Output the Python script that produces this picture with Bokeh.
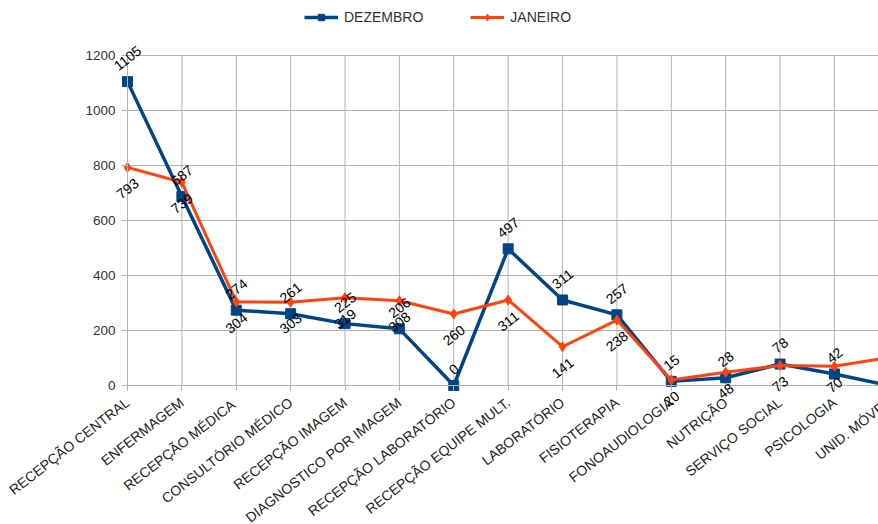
from math import sin, cos, radians
from bokeh.plotting import figure
from bokeh.models import (Range1d, FixedTicker, ColumnDataSource, Label,
                          Legend, LegendItem)
from bokeh.embed import file_html
from bokeh.resources import INLINE

categories = ["RECEPÇÃO CENTRAL", "ENFERMAGEM", "RECEPÇÃO  MÉDICA",
              "CONSULTÓRIO MÉDICO", "RECEPÇÃO IMAGEM", "DIAGNOSTICO POR IMAGEM",
              "RECEPÇÃO LABORATÓRIO", "RECEPÇÃO EQUIPE MULT.", "LABORATÓRIO",
              "FISIOTERAPIA", "FONOAUDIOLOGIA", "NUTRIÇÃO", "SERVIÇO SOCIAL",
              "PSICOLOGIA", "UNID. MÓVEL"]
dezembro = [1105, 687, 274, 261, 225, 206, 0, 497, 311, 257, 15, 28, 78, 42, 0]
janeiro = [793, 739, 304, 303, 319, 308, 260, 311, 141, 238, 20, 48, 73, 70, 102]
y_ticks = [0, 200, 400, 600, 800, 1000, 1200]

BLUE = "#004586"
ORANGE = "#ff420e"
GRID = "#b3b3b3"
FONT = "Liberation Sans"
ANG = radians(38)

W, H = 878, 524
LEFT, BOTTOM0, TOP1200 = 127, 385, 55      # page pixels of the plot area
STEP = 54.38                               # pixels per category
PPU = (BOTTOM0 - TOP1200) / (y_ticks[-1] - y_ticks[0])
X_END = (W - LEFT) / STEP

xs = list(range(len(categories)))

p = figure(width=W, height=H, output_backend="svg", toolbar_location=None,
           title=None,
           x_range=Range1d(-LEFT / STEP, X_END),
           y_range=Range1d(-(H - BOTTOM0) / PPU, y_ticks[-1] + TOP1200 / PPU),
           min_border_left=0, min_border_right=0, min_border_top=0,
           min_border_bottom=0)
p.outline_line_color = None
p.background_fill_color = "white"
p.xgrid.visible = False
p.ygrid.visible = False

# axes (drawn at the data origin)
p.xaxis.fixed_location = 0
p.xaxis.bounds = (xs[0], xs[-1])
p.xaxis.ticker = FixedTicker(ticks=xs)
p.xaxis.major_label_overrides = {i: c for i, c in zip(xs, categories)}
p.xaxis.major_label_orientation = ANG
p.xaxis.major_label_standoff = 10
p.xaxis.major_label_text_font = FONT
p.xaxis.major_label_text_font_size = "14px"
p.xaxis.major_label_text_color = "#222222"
p.xaxis.axis_line_color = GRID
p.xaxis.major_tick_line_color = GRID
p.xaxis.major_tick_out = 5
p.xaxis.major_tick_in = 0
p.xaxis.minor_tick_line_color = None

p.yaxis.fixed_location = 0
p.yaxis.bounds = (y_ticks[0], y_ticks[-1])
p.yaxis.ticker = FixedTicker(ticks=y_ticks)
p.yaxis.axis_line_color = GRID
p.yaxis.major_tick_line_color = GRID
p.yaxis.major_tick_out = 6
p.yaxis.major_tick_in = 0
p.yaxis.minor_tick_line_color = None
p.yaxis.major_label_text_font = FONT
p.yaxis.major_label_text_font_size = "13.5px"
p.yaxis.major_label_text_color = "#333333"
p.yaxis.major_label_standoff = 6

# grid lines
p.segment(x0=xs, x1=xs, y0=[y_ticks[0]] * len(xs), y1=[y_ticks[-1]] * len(xs),
          line_color=GRID, line_width=1)
p.segment(x0=[xs[0]] * len(y_ticks), x1=[xs[-1]] * len(y_ticks),
          y0=y_ticks, y1=y_ticks, line_color=GRID, line_width=1)

# last category label (its tick lies beyond the visible area)
p.add_layout(Label(x=xs[-1], y=0, text=categories[-1], y_offset=-15,
                   angle=ANG, text_align="right", text_baseline="middle",
                   text_font=FONT, text_font_size="14px", text_color="#222222"))

# series
src = ColumnDataSource(dict(x=xs, dez=dezembro, jan=janeiro))
l1 = p.line("x", "dez", source=src, line_color=BLUE, line_width=3.5)
m1 = p.scatter("x", "dez", source=src, marker="square", size=10,
               fill_color=BLUE, line_color=BLUE)
l2 = p.line("x", "jan", source=src, line_color=ORANGE, line_width=3)
m2 = p.scatter("x", "jan", source=src, marker="diamond", size=10,
               fill_color=ORANGE, line_color=ORANGE)

# data labels (blue above the point, orange below it)
def half_box(s):
    return (len(s) * 7.8 * sin(ANG) + 10 * cos(ANG)) / 2

for x, d, j in zip(xs, dezembro, janeiro):
    if x > X_END:
        continue
    for v, sign in ((d, 1), (j, -1)):
        s = str(v)
        p.add_layout(Label(x=x, y=v, text=s, y_offset=sign * (10 + half_box(s)),
                           angle=ANG, text_align="center", text_baseline="middle",
                           text_font=FONT, text_font_size="14px",
                           text_color="#000000"))

# legend
legend = Legend(items=[LegendItem(label="DEZEMBRO", renderers=[l1, m1]),
                       LegendItem(label="JANEIRO", renderers=[l2, m2])],
                orientation="horizontal", location=(304, H - 25),
                padding=0, margin=0, spacing=47, glyph_width=34,
                glyph_height=16, label_standoff=6, border_line_color=None,
                background_fill_alpha=0, label_text_font=FONT,
                label_text_font_size="14px", label_text_color="#333333")
p.add_layout(legend, "center")

open("out.html", "w").write(file_html(p, INLINE))
